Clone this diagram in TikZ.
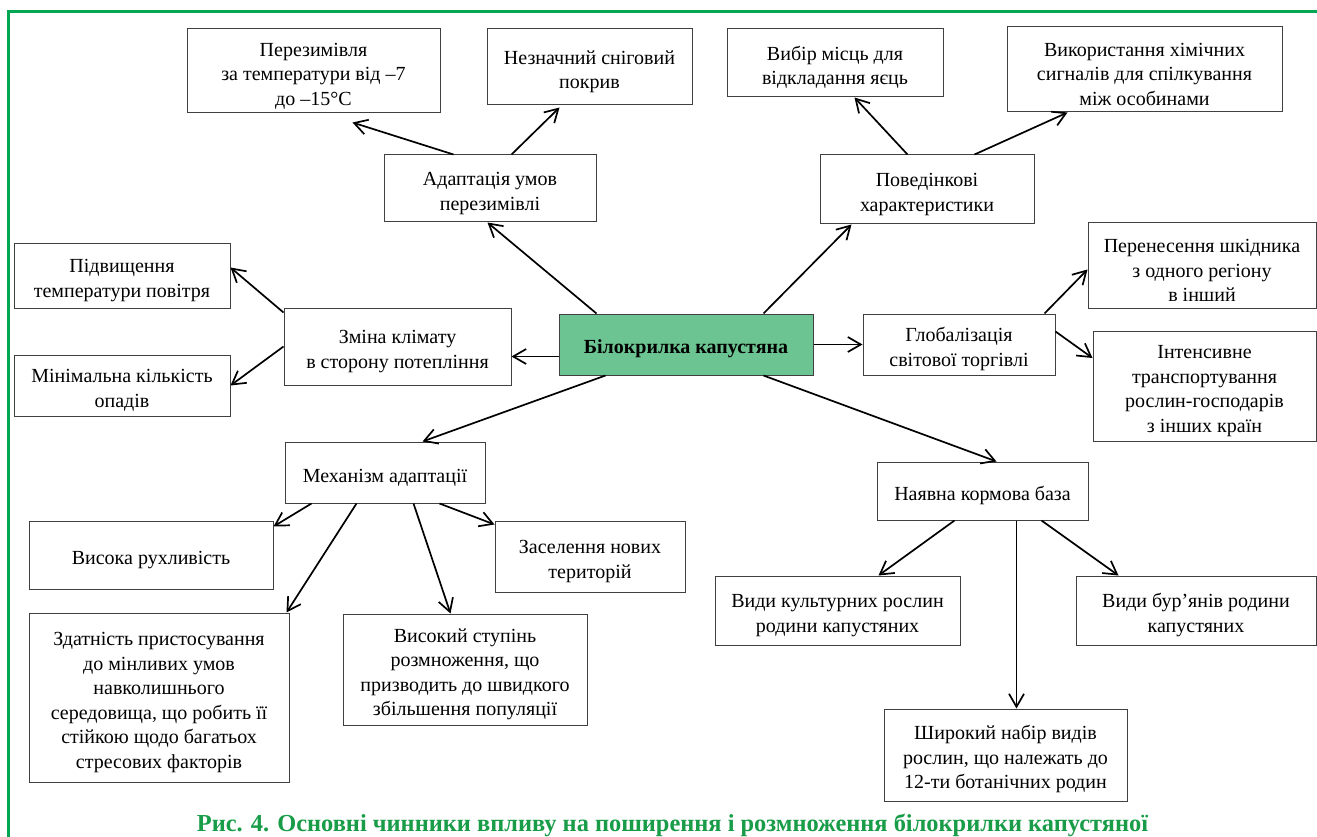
\documentclass[tikz,border=0pt]{standalone}
\usepackage{fontspec}
\setmainfont{Liberation Serif}
\usetikzlibrary{arrows.meta}
\definecolor{framegreen}{RGB}{0,166,81}
\definecolor{capgreen}{RGB}{24,156,72}
\definecolor{mainfill}{RGB}{108,196,146}
\newcommand{\boxstrut}{\rule{0pt}{23pt}}
\begin{document}
\begin{tikzpicture}[x=1pt,y=-1pt]

    \tikzstyle{box}=[draw=black!75, fill=white, line width=1pt, align=center, inner sep=2pt,
                     font=\fontsize{20}{24.5}\selectfont]
    \tikzstyle{arr}=[-{Straight Barb[length=13pt,width=15pt]}, line width=1.7pt]

    \useasboundingbox (0,0) rectangle (1317,837);
    \draw[framegreen, line width=3pt] (8.5,837) -- (8.5,11.5) -- (1317,11.5);

    % upper row
    \node[box, minimum width=253pt, minimum height=84pt] (winter) at (313.5,71)
        {\boxstrut Перезимівля\\за температури від –7\\до –15°C};
    \node[box, minimum width=205pt, minimum height=76pt] (snow) at (589.5,67)
        {\boxstrut Незначний сніговий\\покрив};
    \node[box, minimum width=216pt, minimum height=68pt] (eggs) at (835,63)
        {\boxstrut Вибір місць для\\відкладання яєць};
    \node[box, minimum width=275pt, minimum height=85pt] (chem) at (1144.5,69.5)
        {\boxstrut Використання хімічних\\сигналів для спілкування\\між особинами};

    \node[box, minimum width=212pt, minimum height=67pt] (adapt) at (490,188.5)
        {\boxstrut Адаптація умов\\перезимівлі};
    \node[box, minimum width=214pt, minimum height=69pt] (behav) at (927,189.5)
        {\boxstrut Поведінкові\\характеристики};

    % middle row
    \node[box, minimum width=228pt, minimum height=85pt] (transf) at (1202,265.5)
        {\boxstrut Перенесення шкідника\\з одного регіону\\в інший};
    \node[box, minimum width=216pt, minimum height=65pt] (warm) at (122,275.5)
        {\boxstrut Підвищення\\температури повітря};
    \node[box, minimum width=227pt, minimum height=77pt] (clim) at (397.5,346.5)
        {\boxstrut Зміна клімату\\в сторону потепління};
    \node[box, fill=mainfill, minimum width=254pt, minimum height=61pt,
          font=\fontsize{20}{24.5}\selectfont\bfseries] (main) at (686,344.5)
        {\boxstrut Білокрилка капустяна};
    \node[box, minimum width=192pt, minimum height=61pt] (glob) at (959,344.5)
        {\boxstrut Глобалізація\\світової торгівлі};
    \node[box, minimum width=223pt, minimum height=110pt] (transp) at (1204.5,386)
        {\boxstrut Інтенсивне\\транспортування\\рослин-господарів\\з інших країн};
    \node[box, minimum width=216pt, minimum height=61pt] (rain) at (122,385.5)
        {\boxstrut Мінімальна кількість\\опадів};

    % lower part
    \node[box, minimum width=200pt, minimum height=61pt] (mech) at (385,472.5)
        {\boxstrut Механізм адаптації};
    \node[box, minimum width=211pt, minimum height=58pt] (food) at (982.5,491)
        {\boxstrut Наявна кормова база};
    \node[box, minimum width=244pt, minimum height=68pt] (mob) at (151,555)
        {\boxstrut Висока рухливість};
    \node[box, minimum width=190pt, minimum height=71pt] (settle) at (590,556.5)
        {\boxstrut Заселення нових\\територій};
    \node[box, minimum width=260pt, minimum height=169pt] (abil) at (159,697.5)
        {\boxstrut Здатність пристосування\\до мінливих умов\\навколишнього\\середовища, що робить її\\стійкою щодо багатьох\\стресових факторів};
    \node[box, minimum width=244pt, minimum height=111pt] (repr) at (465,669.5)
        {\boxstrut Високий ступінь\\розмноження, що\\призводить до швидкого\\збільшення популяції};
    \node[box, minimum width=245pt, minimum height=69pt] (crops) at (837.5,610.5)
        {\boxstrut Види культурних рослин\\родини капустяних};
    \node[box, minimum width=240pt, minimum height=69pt] (weeds) at (1196,610.5)
        {\boxstrut Види бур’янів родини\\капустяних};
    \node[box, minimum width=243pt, minimum height=92pt] (wide) at (1005.5,755)
        {\boxstrut Широкий набір видів\\рослин, що належать до\\12-ти ботанічних родин};

    \node[anchor=base, inner sep=0pt, text=capgreen,
          font=\fontsize{24.4}{29}\selectfont\bfseries] (caption) at (672.5,831)
        {Рис. 4. Основні чинники впливу на поширення і розмноження білокрилки капустяної};

    % arrows from the centre
    \draw[arr] ([xshift=38pt]main.north west) -- ([xshift=104pt]adapt.south west);
    \draw[arr] ([xshift=205pt]main.north west) -- ([xshift=32pt]behav.south west);
    \draw[arr] ([yshift=-12pt]main.west) -- ([yshift=-10pt]clim.east);
    \draw[arr] (main.east) -- (glob.west);
    \draw[arr] ([xshift=47pt]main.south west) -- ([xshift=138pt]mech.north west);
    \draw[arr] ([xshift=205pt]main.south west) -- ([xshift=120pt]food.north west);

    % arrows of the second level
    \draw[arr] ([xshift=70pt]adapt.north west) -- ([xshift=166pt,yshift=-9pt]winter.south west);
    \draw[arr] ([xshift=128pt]adapt.north west) -- ([xshift=73pt,yshift=-2pt]snow.south west);
    \draw[arr] ([xshift=88pt]behav.north west) -- ([xshift=128pt]eggs.south west);
    \draw[arr] ([xshift=155pt]behav.north west) -- ([xshift=61pt]chem.south west);
    \draw[arr] ([xshift=182pt]glob.north west) -- ([yshift=-4pt]transf.west);
    \draw[arr] ([yshift=-18pt]glob.north east) -- ([yshift=28pt]transp.west);
    \draw[arr] ([yshift=-5pt]clim.north west) -- ([yshift=8pt]warm.east);
    \draw[arr] (clim.west) -- (rain.east);
    \draw[arr] ([xshift=27pt]mech.south west) -- ([yshift=-6pt]mob.north east);
    \draw[arr] ([xshift=72pt]mech.south west) -- ([xshift=-3pt]abil.north east);
    \draw[arr] ([xshift=129pt]mech.south west) -- ([xshift=108pt]repr.north west);
    \draw[arr] ([xshift=155pt]mech.south west) -- ([yshift=-4pt]settle.north west);
    \draw[arr] ([xshift=78pt]food.south west) -- ([xshift=164pt]crops.north west);
    \draw[arr] ([xshift=140pt]food.south west) -- ([xshift=133pt]wide.north west);
    \draw[arr] ([xshift=165pt]food.south west) -- ([xshift=43pt]weeds.north west);
\end{tikzpicture}
\end{document}
